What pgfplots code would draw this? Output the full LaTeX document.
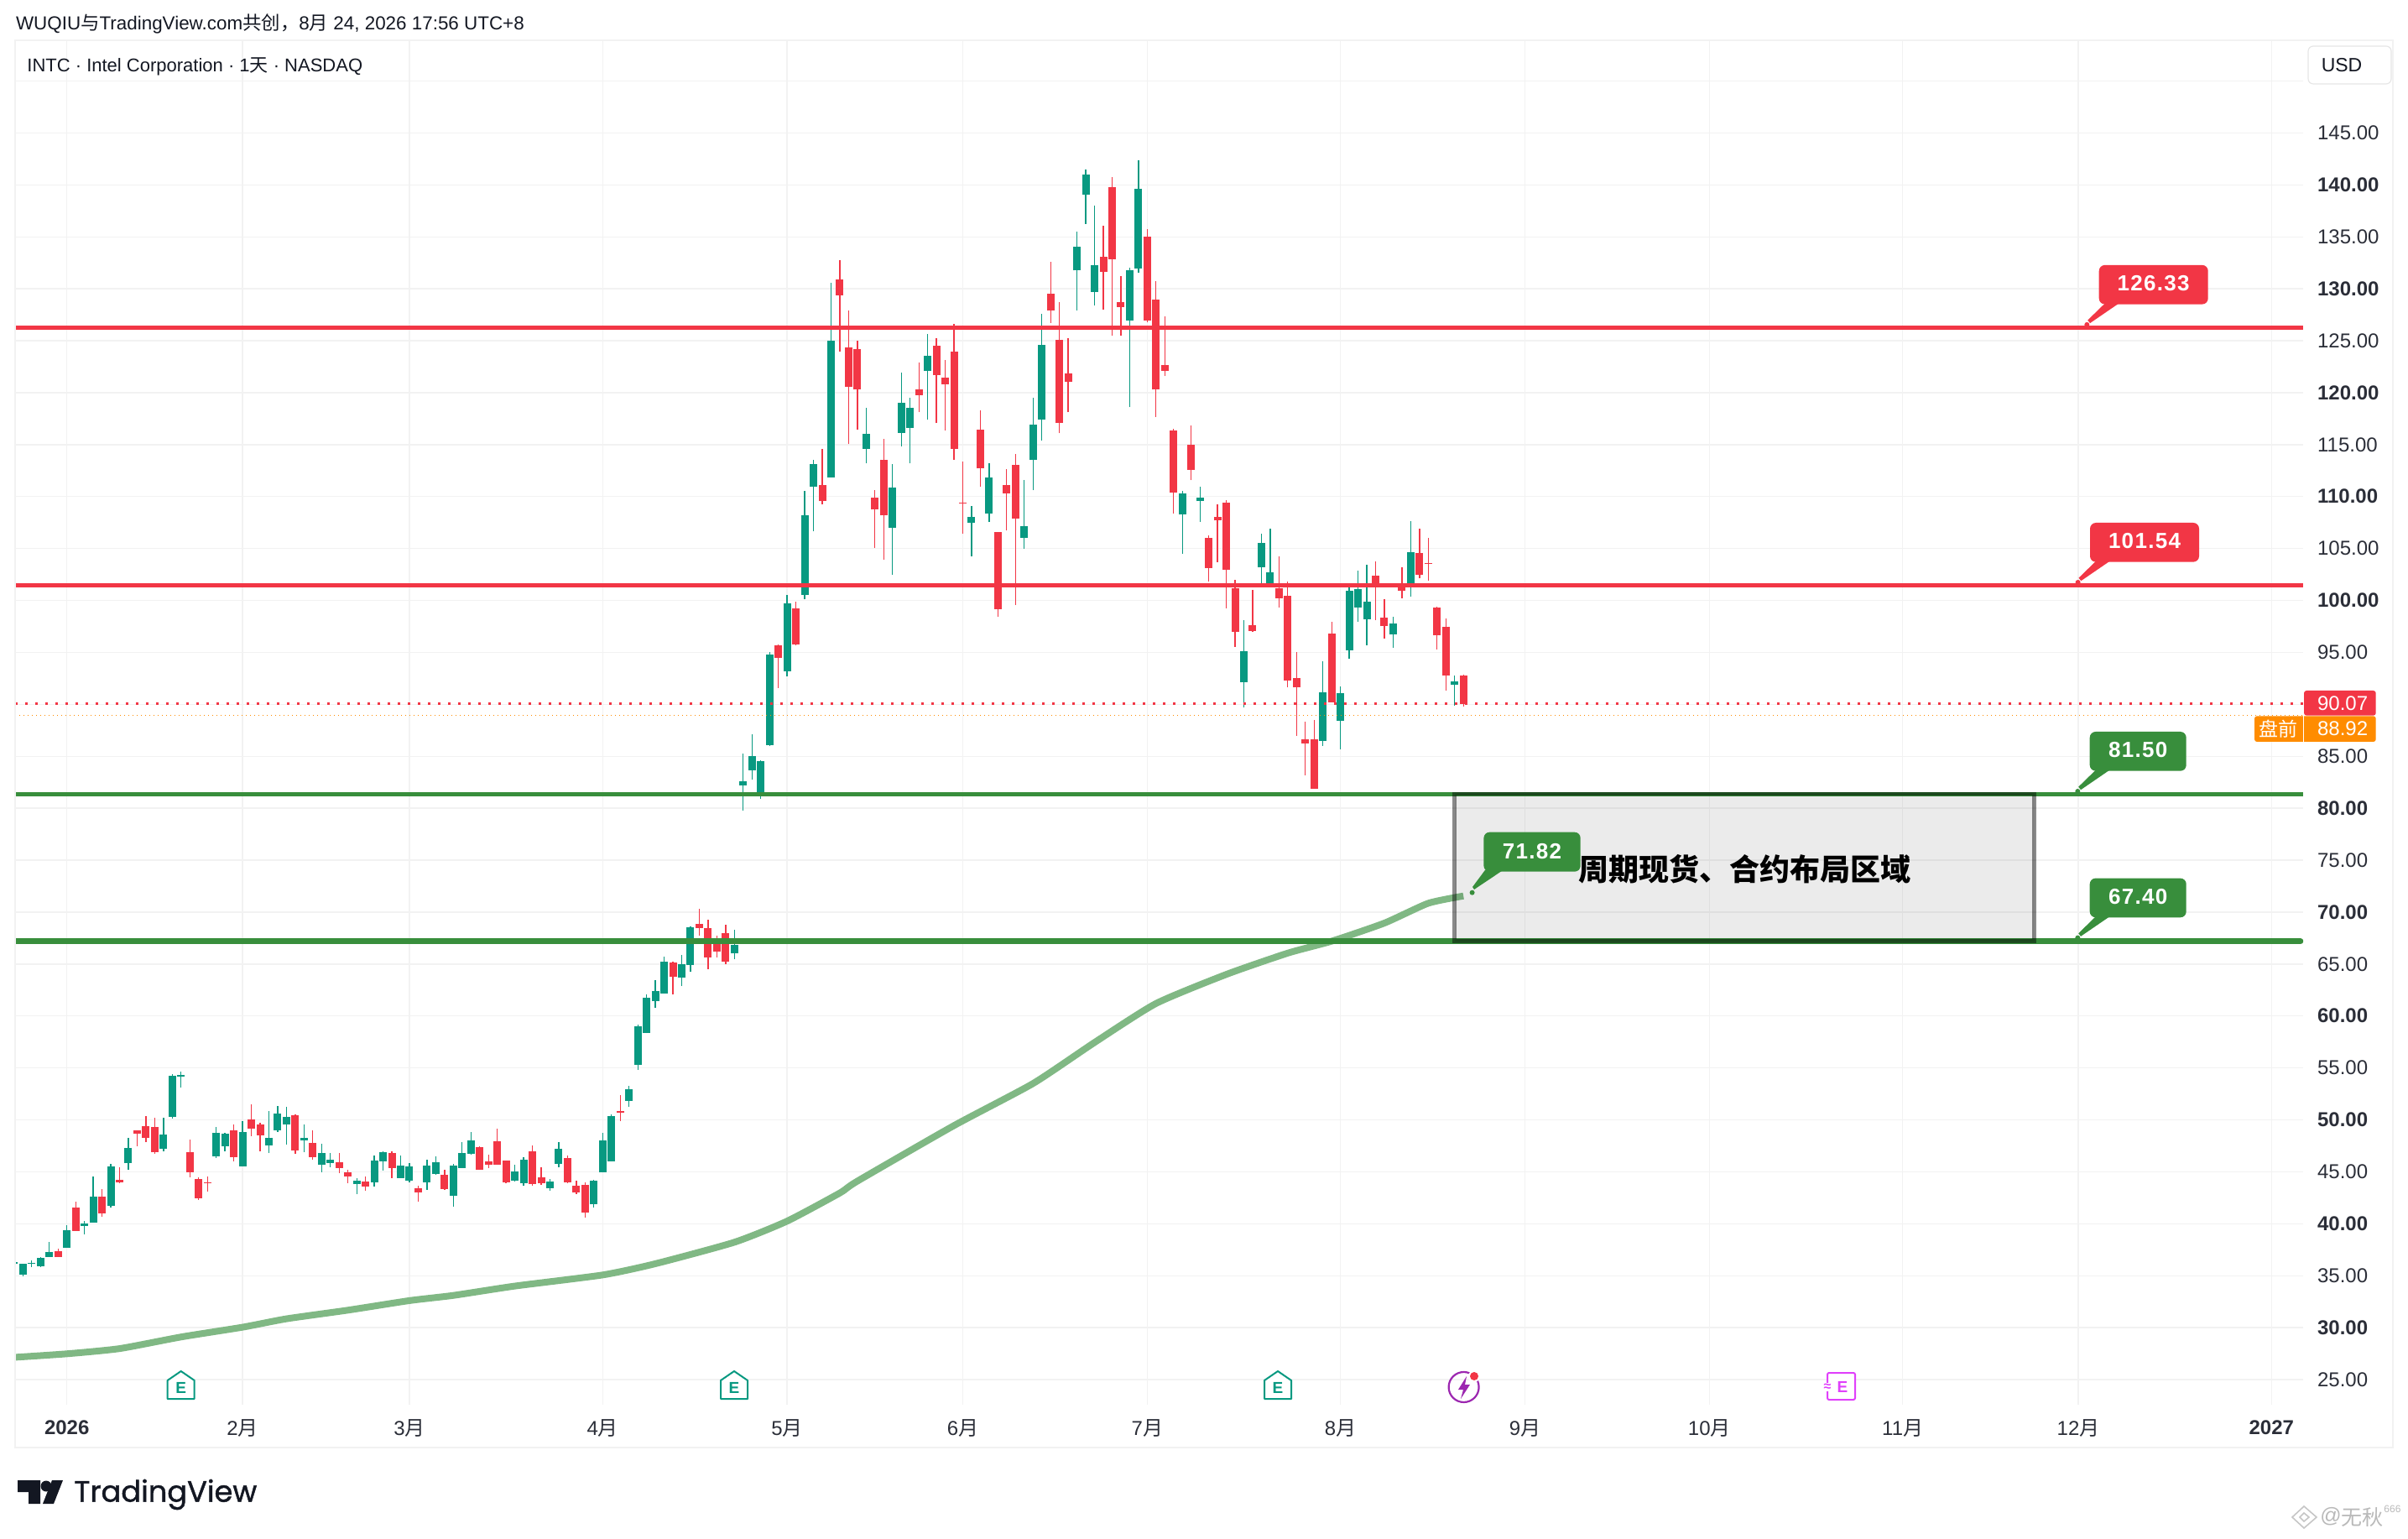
\documentclass[border=0pt]{standalone}
\usepackage{fontspec}
\usepackage{pgfplots}
\usepackage{pgfplotstable}
\pgfplotsset{compat=1.18}
\setmainfont{Liberation Sans}
\newfontfamily\cjk{Noto Sans CJK SC}
\newfontfamily\lbl[LetterSpace=5]{Liberation Sans}
\newfontfamily\tvfont[FakeBold=1.2]{Poppins}
\definecolor{tvteal}{HTML}{089981}
\definecolor{tvred}{HTML}{F23645}
\definecolor{tvgreen}{HTML}{388E3C}
\definecolor{tvink}{HTML}{131722}
\definecolor{tvma}{HTML}{80B884}
\definecolor{tvorange}{HTML}{FF8C00}
\definecolor{tvgrid}{HTML}{F2F2F2}
\definecolor{tvpurple}{HTML}{9C27B0}
\definecolor{tvpink}{HTML}{E040FB}

\pgfplotstableread{
i top bot high low
0 36.31 36.15 36.31 36.15
1 36.15 35.10 36.15 34.96
2 36.20 36.15 36.47 35.83
3 36.72 35.91 36.80 35.83
4 37.28 36.80 38.25 36.80
6 39.38 37.68 39.87 37.68
8 40.03 39.78 40.27 38.98
9 42.61 40.11 44.55 40.11
11 45.52 41.72 45.76 41.56
13 47.30 45.84 48.27 45.20
17 48.59 47.22 50.20 46.97
18 54.24 50.29 54.41 50.12
19 54.32 54.16 54.65 53.11
23 48.75 46.49 49.32 46.33
24 48.67 47.46 48.75 46.97
26 48.83 45.52 49.88 45.52
29 48.27 47.54 50.85 46.81
30 50.61 48.99 51.34 48.83
31 50.29 49.56 51.25 47.62
33 48.27 48.02 49.56 46.89
35 46.81 45.68 47.70 44.95
36 46.17 45.84 46.81 45.44
39 44.15 43.82 44.39 42.85
41 46.09 43.98 46.57 43.58
42 46.89 46.00 46.97 45.12
44 45.60 44.39 46.57 44.39
45 45.52 44.15 45.84 43.98
47 45.59 43.98 46.16 43.25
48 45.92 44.78 46.48 44.70
50 45.59 42.68 45.75 41.63
51 46.80 45.35 47.85 45.35
52 48.02 46.72 48.82 46.64
57 45.03 44.14 45.67 44.06
58 46.16 43.90 46.40 43.65
61 44.06 43.41 44.30 43.17
62 47.21 45.75 47.85 45.43
66 44.14 41.88 44.22 41.55
67 48.02 44.95 48.74 44.95
68 50.36 46.00 50.52 46.00
70 52.94 51.81 53.27 51.25
71 59.00 55.29 59.16 54.80
72 61.75 58.35 62.07 58.35
73 62.39 61.42 63.44 60.78
74 65.22 62.15 65.71 62.15
76 64.98 63.69 65.87 62.88
77 68.53 64.90 68.61 64.25
82 66.84 66.03 68.29 65.46
83 82.62 82.20 85.28 79.76
84 85.03 83.67 87.13 82.73
85 84.55 81.26 84.65 80.87
86 94.79 86.08 95.03 85.98
88 99.72 93.18 100.52 92.69
90 108.18 100.52 110.52 100.10
91 113.11 110.91 113.57 106.64
93 124.97 111.82 130.59 111.82
97 116.01 114.62 118.57 113.18
100 110.84 106.96 113.11 102.45
101 118.99 116.15 121.96 114.86
102 118.57 116.57 119.48 113.18
104 123.57 122.06 125.66 117.38
109 108.01 107.45 109.06 104.23
111 111.82 108.36 113.18 107.55
115 107.13 106.01 111.57 104.97
116 116.96 113.50 119.48 110.59
117 124.62 117.38 127.62 115.35
121 134.06 131.75 135.52 127.94
122 141.01 139.06 141.50 136.26
123 132.31 129.72 138.01 128.36
127 131.75 126.96 132.06 118.60
128 139.62 131.96 142.38 131.57
133 110.28 108.25 110.52 104.48
135 109.90 109.55 110.94 107.55
140 95.14 92.13 98.11 89.69
142 105.52 103.18 106.40 101.26
143 102.69 101.47 106.89 101.47
149 91.16 86.48 94.14 86.00
151 91.08 88.41 91.72 85.67
152 100.91 95.19 101.40 94.38
153 101.08 99.30 102.85 97.93
154 99.87 98.17 103.41 95.67
157 97.77 96.72 98.41 95.43
159 104.62 101.48 107.61 100.35
164 92.20 91.88 92.77 89.87
}\upbars

\pgfplotstableread{
i top bot high low
5 37.36 36.80 37.60 36.80
7 41.56 39.30 42.13 39.30
10 42.61 41.00 43.34 40.67
12 44.23 43.98 45.44 43.90
14 48.99 48.67 48.99 47.46
15 49.40 48.27 50.37 47.86
16 49.32 46.89 50.20 46.73
20 46.89 44.95 48.10 44.47
21 44.31 42.45 44.47 42.29
22 43.98 43.93 44.55 43.10
25 48.99 46.41 49.56 46.00
27 50.04 49.15 51.50 48.43
28 49.56 48.51 49.72 46.97
32 50.45 47.05 50.53 46.73
34 47.78 46.41 48.99 46.17
37 45.92 45.36 46.81 44.87
38 44.95 44.55 45.20 43.90
40 44.07 43.58 44.55 43.18
43 46.81 45.36 46.97 44.39
46 43.41 43.01 43.65 42.12
49 44.70 43.33 45.19 43.25
53 47.37 45.19 47.45 45.19
54 46.00 45.67 46.64 45.35
55 47.93 45.67 49.15 45.67
56 46.08 43.98 46.08 43.90
59 46.97 43.82 47.53 43.65
60 44.46 43.90 45.43 43.73
63 46.32 43.98 46.56 43.90
64 43.65 43.01 44.14 42.85
65 43.73 41.07 43.98 40.58
69 50.84 50.68 52.38 49.87
75 65.14 63.77 65.22 62.07
78 68.86 68.45 70.31 67.73
79 68.45 65.62 69.26 64.49
80 67.16 66.19 67.73 65.62
81 67.97 65.22 68.77 64.98
87 95.70 94.48 95.77 91.57
89 99.23 95.77 99.86 95.70
92 111.08 109.55 114.55 109.23
94 130.91 129.37 132.76 123.99
95 124.37 120.59 127.87 115.03
96 124.16 120.28 125.03 116.47
98 109.86 108.74 110.59 105.03
99 113.50 108.18 115.59 103.92
103 120.35 119.79 122.87 118.11
105 124.48 121.71 125.28 117.06
106 121.47 120.84 123.11 116.33
107 123.92 114.62 126.64 113.57
108 109.44 109.34 113.36 106.40
110 116.47 112.69 118.32 110.91
112 106.57 99.16 106.57 98.43
113 111.08 110.28 112.62 106.71
114 113.01 107.87 114.06 99.55
118 129.55 127.87 132.62 126.71
119 125.10 117.06 128.74 116.08
120 121.89 121.08 125.28 118.11
124 133.11 131.64 136.08 128.01
125 139.79 132.87 140.77 125.45
126 128.74 128.25 131.26 125.52
129 135.03 126.96 135.77 126.75
130 128.99 120.28 130.77 117.69
131 122.62 122.13 127.38 121.57
132 116.33 110.35 116.50 108.36
134 114.97 112.55 116.82 111.57
136 106.01 103.11 106.26 101.82
137 108.04 107.69 109.23 103.67
138 109.41 102.94 109.65 99.23
139 101.19 96.99 101.99 95.52
141 97.62 97.06 101.01 96.99
144 101.19 100.21 104.23 99.34
145 100.45 92.31 101.82 91.64
146 92.53 91.64 95.03 86.96
147 86.64 86.24 88.33 83.17
148 86.64 81.88 88.49 81.88
150 96.80 90.19 97.93 90.19
155 102.37 101.24 103.74 98.09
156 98.33 97.53 100.11 96.32
158 101.50 100.91 103.17 100.19
160 104.54 102.45 106.88 102.12
161 103.58 103.49 105.99 101.88
162 99.30 96.64 99.38 95.27
163 97.45 92.77 98.25 91.32
165 92.77 90.03 92.85 89.78
}\downbars

\pgfplotstableread{
i ma
0 27.14
6 27.48
12 27.98
19 29.10
26 30.04
31 30.85
38 31.68
45 32.60
50 33.10
57 34.00
67 35.07
73 36.15
82 38.22
88 40.25
94 42.96
96 44.10
107 49.45
116 53.50
123 57.45
130 61.20
138 64.00
145 66.05
150 67.20
156 68.94
161 70.85
165 71.55
}\matable

\newcommand{\candles}[2]{%
  \addplot[forget plot,draw=none,mark=none,error bars/.cd,y dir=plus,y explicit,error mark=none,
    error bar style={draw=#2,line width=0.65pt,line cap=butt}]
    table[x=i,y=low,y error expr=\thisrow{high}-\thisrow{low}]{#1};
  \addplot[forget plot,draw=none,mark=none,error bars/.cd,y dir=plus,y explicit,error mark=none,
    error bar style={draw=#2,line width=4.5pt,line cap=butt}]
    table[x=i,y=bot,y error expr=\thisrow{top}-\thisrow{bot}]{#1};
}

\newcommand{\callout}[5]{%
  \fill[#5] ({#1+7},{#3-1}) -- ({#1+23.6},{#3-1}) -- ({#1-10.7},{#3+22.5}) -- ({#1-13.5},{#3+19}) -- cycle;
  \fill[#5] ({#1-14.4},{#3+24.3}) circle[radius=3];
  \fill[#5,rounded corners=3.5pt] (#1,{#3-46.7}) rectangle ({#1+#2},#3);
  \node[text=white,inner sep=0pt,anchor=center,font=\fontsize{13}{15}\selectfont\lbl\bfseries] at ({#1+#2/2},{#3-24.7}) {#4};
}
\newcommand{\earn}[1]{%
  \draw[tvteal,line width=1pt,fill=white,line join=round] ({#1-16},1667) -- ({#1+16},1667) -- ({#1+16},1645) -- (#1,1634) -- ({#1-16},1645) -- cycle;
  \node[text=tvteal,inner sep=0pt,font=\fontsize{9.5}{11}\selectfont\bfseries] at (#1,1654) {E};
}

\begin{document}
\begin{tikzpicture}
\path[use as bounding box] (0,0) rectangle (1435pt,916.5pt);
\begin{axis}[
  at={(9pt,79.5pt)},anchor=south west,
  scale only axis,width=1363.5pt,height=813pt,
  xmin=0.105,xmax=260.6,ymin=22.577,ymax=153.92,
  axis line style={draw=none},
  major tick length=0pt,
  tick style={draw=none},
  grid=major,
  major grid style={draw=tvgrid,line width=0.7pt},
  ytick={25,30,35,40,45,50,55,60,65,70,75,80,85,90,95,100,105,110,115,120,125,130,135,140,145,150},
  yticklabels={25.00,{\bfseries 30.00},35.00,{\bfseries 40.00},45.00,{\bfseries 50.00},55.00,{\bfseries 60.00},65.00,{\bfseries 70.00},75.00,{\bfseries 80.00},85.00,{},95.00,{\bfseries 100.00},105.00,{\bfseries 110.00},115.00,{\bfseries 120.00},125.00,{\bfseries 130.00},135.00,{\bfseries 140.00},145.00,{}},
  xtick={6,26,45,67,88,108,129,151,172,193,215,235,257},
  xticklabels={{\bfseries 2026},2{\cjk 月},3{\cjk 月},4{\cjk 月},5{\cjk 月},6{\cjk 月},7{\cjk 月},8{\cjk 月},9{\cjk 月},10{\cjk 月},11{\cjk 月},12{\cjk 月},{\bfseries 2027}},
  yticklabel pos=right,
  yticklabel style={anchor=west,inner sep=0pt,xshift=8.35pt,text=tvink!90,font=\fontsize{12}{14}\selectfont},
  xticklabel style={anchor=center,inner sep=0pt,yshift=-13.85pt,text=tvink!90,font=\fontsize{12}{14}\selectfont},
  clip=true,
]
\candles{\upbars}{tvteal}
\candles{\downbars}{tvred}
\addplot[forget plot,tvma,line width=4pt,line join=round,line cap=butt,smooth,tension=0.35] table[x=i,y=ma]{\matable};
\addplot[forget plot,tvred,line width=2.6pt] coordinates {(0.105,126.28)(260.6,126.28)};
\addplot[forget plot,tvred,line width=2.6pt] coordinates {(0.105,101.46)(260.6,101.46)};
\addplot[forget plot,tvgreen,line width=2.5pt] coordinates {(0.105,81.37)(260.6,81.37)};
\addplot[forget plot,tvgreen,line width=3.5pt,line cap=round] coordinates {(0.105,67.19)(260.3,67.19)};
\addplot[forget plot,tvred,line width=1.3pt,dash pattern=on 1.65pt off 4.35pt] coordinates {(0.105,90.07)(260.6,90.07)};
\addplot[forget plot,tvorange,line width=0.5pt,dash pattern=on 0.5pt off 2pt] coordinates {(0.105,88.92)(260.6,88.92)};
\addplot[forget plot,draw=black,draw opacity=0.46,fill=black,fill opacity=0.08,line width=2.35pt] coordinates {(164,81.38)(230,81.38)(230,67.19)(164,67.19)} --cycle;
\end{axis}
\begin{scope}[shift={(0pt,916.5pt)},x=0.5pt,y=-0.5pt]
  \draw[tvgrid,line width=1pt] (18,48) -- (18,1725) -- (2852,1725) -- (2852,48) -- cycle;
  \node[anchor=west,inner sep=0pt,text=tvink,font=\fontsize{11.2}{14}\selectfont] at (18.7,28) {WUQIU{\cjk 与}TradingView.com{\cjk 共创，}8{\cjk 月} 24, 2026 17:56 UTC+8};
  \node[anchor=west,inner sep=0pt,text=tvink,font=\fontsize{11}{14}\selectfont] at (32,79) {INTC · Intel Corporation · 1{\cjk 天} · NASDAQ};
  \draw[draw=tvgrid!95!black,fill=white,line width=0.6pt,rounded corners=3pt] (2751,55) rectangle (2850,100);
  \node[inner sep=0pt,text=tvink,font=\fontsize{11.5}{14}\selectfont] at (2791,78) {USD};
  \fill[tvred,rounded corners=1.5pt] (2746,823) rectangle (2831.7,852.7);
  \fill[tvorange,rounded corners=1.5pt] (2687,853.3) rectangle (2831.7,884);
  \draw[white,line width=0.5pt] (2745.3,853.3) -- (2745.3,884);
  \node[anchor=west,inner sep=0pt,text=white,font=\fontsize{12}{14}\selectfont] at (2761.7,838.3) {90.07};
  \node[anchor=west,inner sep=0pt,text=white,font=\fontsize{12}{14}\selectfont] at (2761.7,868.3) {88.92};
  \node[inner sep=0pt,text=white,font=\fontsize{11.5}{14}\selectfont\cjk] at (2715,868.3) {盘前};
  \callout{2501.7}{130}{362.6}{126.33}{tvred}
  \callout{2491}{130}{669.7}{101.54}{tvred}
  \callout{2490.7}{115}{918.7}{81.50}{tvgreen}
  \callout{2490.7}{115}{1093.3}{67.40}{tvgreen}
  \fill[tvgreen] (1769.9,1037) -- (1791.3,1037) -- (1757,1060) -- (1755,1057) -- cycle;
  \fill[tvgreen] (1754.6,1063.7) circle[radius=3];
  \fill[tvgreen,rounded corners=3.5pt] (1768.4,991.7) rectangle (1883.7,1038.7);
  \node[text=white,inner sep=0pt,font=\fontsize{13}{15}\selectfont\lbl\bfseries] at (1826,1014.3) {71.82};
  \node[inner sep=0pt,text=black,font=\fontsize{18}{20}\selectfont\cjk\bfseries] at (2079.3,1035.7) {周期现货、合约布局区域};
  \earn{215.7}
  \earn{875}
  \earn{1523}
  \draw[tvpurple,line width=1.1pt] (1744.6,1653) circle[radius=18];
  \fill[tvpurple] (1748,1640) -- (1738,1656) -- (1744,1656) -- (1741,1667) -- (1752,1650) -- (1746,1650) -- cycle;
  \fill[white] (1757,1640) circle[radius=7];
  \fill[tvred] (1757,1640) circle[radius=5];
  \draw[tvpink,line width=1pt,rounded corners=1pt,fill=white] (2178,1636) rectangle (2211,1668);
  \node[inner sep=0.5pt,fill=white,text=tvpink,font=\fontsize{8}{9}\selectfont\bfseries] at (2178,1653) {≈};
  \node[inner sep=0pt,text=tvpink,font=\fontsize{9.5}{11}\selectfont\bfseries] at (2196,1653) {E};
  \fill[tvink] (21,1764) -- (48,1764) -- (48,1792) -- (34,1792) -- (34,1778) -- (21,1778) -- cycle;
  \fill[tvink] (55,1771) circle[radius=6.5];
  \fill[tvink] (62,1764) -- (75,1764) -- (64,1792) -- (51,1792) -- cycle;
  \node[anchor=west,inner sep=0pt,text=tvink,font=\fontsize{17.6}{22}\selectfont\tvfont] at (88,1781) {TradingView};
  \draw[gray!45,line width=0.8pt] (2746,1795) -- (2761,1808) -- (2746,1821) -- (2732,1808) -- cycle;
  \draw[gray!45,line width=0.8pt] (2746,1803) -- (2752,1808) -- (2746,1813) -- (2741,1808) -- cycle;
  \node[anchor=west,inner sep=0pt,text=gray!55,font=\fontsize{12.5}{14}\selectfont] at (2765,1807) {@};
  \node[anchor=west,inner sep=0pt,text=gray!55,font=\fontsize{12.5}{14}\selectfont\cjk] at (2790,1808) {无秋};
  \node[anchor=west,inner sep=0pt,text=gray!55,font=\fontsize{6}{7}\selectfont] at (2841,1798) {666};
\end{scope}
\end{tikzpicture}
\end{document}
